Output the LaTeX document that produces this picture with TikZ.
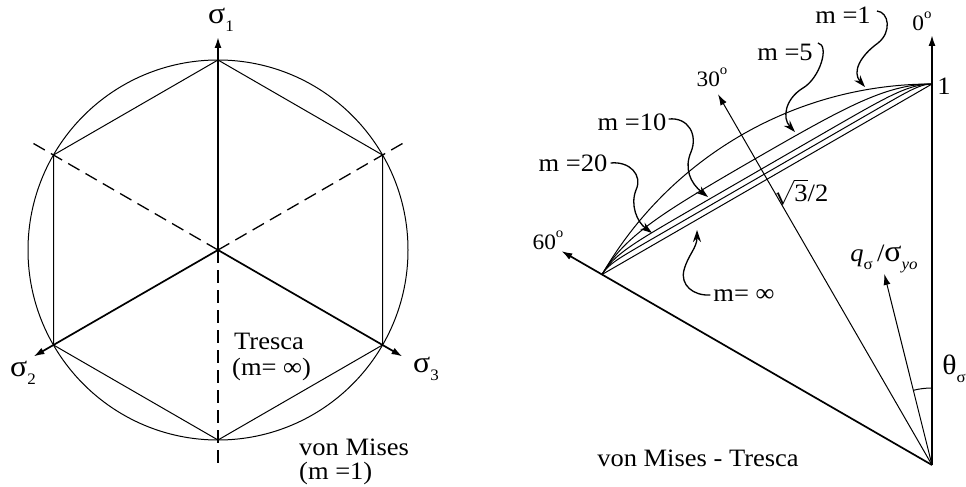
\documentclass[tikz,border=0pt]{standalone}
\usepackage{fontspec}
\setmainfont{Liberation Serif}[FakeStretch=1.06]
\usetikzlibrary{arrows.meta}
\newcommand\mysub[1]{\raisebox{-0.32em}{\fontsize{16}{16}\selectfont #1}}
\newcommand\mydeg{\raisebox{0.55em}{\fontsize{14}{14}\selectfont o}}
\newcommand\mysig{{\fontsize{30}{30}\selectfont σ}}
\begin{document}
\begin{tikzpicture}[x=1pt,y=-1pt,
  lbl/.style={inner sep=0pt, font=\fontsize{25}{27}\selectfont},
  sml/.style={inner sep=0pt, font=\fontsize{22}{24}\selectfont},
  thk/.style={line width=1.7pt},
  thn/.style={line width=1pt},
  ax/.style={thk,-{Latex[length=11pt,width=7pt]}},
  axthin/.style={thn,-{Latex[length=11pt,width=7pt]}},
  dsh/.style={line width=1.3pt,dash pattern=on 13pt off 7pt},
  leader/.style={line width=1.3pt,-{Stealth[length=12pt,width=8pt]}}
]
\useasboundingbox (0,0) rectangle (966,487);

% ---------------- left diagram ----------------
\coordinate (C) at (218,250);
\coordinate (V0) at (218,60);
\coordinate (V60) at (382.5,155);
\coordinate (V120) at (382.5,345);
\coordinate (V180) at (218,440);
\coordinate (V240) at (53.5,345);
\coordinate (V300) at (53.5,155);
\node[circle, draw, thn, minimum size=380pt, inner sep=0pt] (vmcirc) at (C) {};
\draw[thn] (V0) -- (V60) -- (V120) -- (V180) -- (V240) -- (V300) -- cycle;

\coordinate (s1tip) at (218,37);
\coordinate (s2tip) at (33.5,356.5);
\coordinate (s3tip) at (402.5,356.5);
\coordinate (d1) at (33.5,143.5);
\coordinate (d2) at (402.5,143.5);
\coordinate (d3) at (218,463);
\draw[ax] (C) -- (s1tip);
\draw[ax] (C) -- (s2tip);
\draw[ax] (C) -- (s3tip);
\draw[dsh] (C) -- (d1);
\draw[dsh] (C) -- (d2);
\draw[dsh] (C) -- (d3);

\node[lbl] (s1) at (221,20) {\mysig\mysub{1}};
\node[lbl] (s2) at (23,373) {\mysig\mysub{2}};
\node[lbl] (s3) at (426,369) {\mysig\mysub{3}};
\node[lbl, anchor=west] (tres) at (234,341) {Tresca};
\node[lbl, anchor=west] (tresm) at (232,369) {(m= ∞)};
\node[lbl, anchor=west] (vm) at (299,447) {von Mises};
\node[lbl, anchor=west] (vmm) at (299,473) {(m =1)};

% ---------------- right diagram ----------------
\coordinate (O) at (932,465);
\coordinate (P0) at (932,84);
\coordinate (P60) at (602,274.5);
\coordinate (t0) at (932,35);
\coordinate (t60) at (561.3,251);
\coordinate (t30) at (718,94.3);
\coordinate (tq) at (884.3,273.9);
\draw[ax] (O) -- (t0);
\draw[ax] (O) -- (t60);
\draw[axthin] (O) -- (t30);
\draw[axthin] (O) -- (tq);
\draw[thn] (O) ++(0,-77) arc[start angle=270, end angle=256, radius=77];

% yield curves: von Mises arc, Hosford-type curves (exponent 2m), Tresca line
\draw[thn] (P0) -- (P60);
\draw[thn] (O) ++(0,-381) arc[start angle=270, end angle=210, radius=381];
\foreach \a in {10,20,40}{
  \gdef\pts{}
  \foreach \t in {0,0.5,...,60}{
    \xdef\pts{\pts (\fpeval{932-381*((2*sind(60)^\a)^(1/\a))/((abs(sind(60-\t))^\a+abs(sind(\t))^\a+abs(sind(\t+60))^\a)^(1/\a))*sind(\t)},
      \fpeval{465-381*((2*sind(60)^\a)^(1/\a))/((abs(sind(60-\t))^\a+abs(sind(\t))^\a+abs(sind(\t+60))^\a)^(1/\a))*cosd(\t)})}
  }
  \edef\mydraw{\noexpand\draw[thn] plot[smooth] coordinates {\pts};}
  \mydraw
}

% labels
\node[sml] (l0) at (922,21) {0\mydeg};
\node[sml] (l30) at (712,77) {30\mydeg};
\node[sml] (l60) at (548,240) {60\mydeg};
\node[lbl] (l1) at (944,86) {1};
\node[lbl] (lr3) at (801,192) {$\sqrt{\mbox{3}}$/2};
\node[lbl] (lq) at (884,259) {\textit{q}\mysub{σ}\,/\mysig\mysub{\textit{yo}}};
\node[lbl] (lth) at (954,369) {{\fontsize{28}{28}\selectfont θ}\mysub{σ}};
\node[lbl] (lvt) at (698,458) {von Mises - Tresca};

\node[lbl] (m1) at (843,15) {m =1};
\node[lbl] (m5) at (785,52) {m =5};
\node[lbl] (m10) at (632,122) {m =10};
\node[lbl] (m20) at (573,163) {m =20};
\node[lbl] (minf) at (744,295) {m= ∞};

% leaders
\coordinate (a1) at (865,87);
\coordinate (a5) at (795,132);
\coordinate (a10) at (708,197);
\coordinate (a20) at (652,233);
\coordinate (ainf) at (697,230);
\draw[leader] ([xshift=6pt,yshift=4pt]m1.east) .. controls +(12,1) and (892,32) .. (878,43)
  .. controls (860,56) and (852,72) .. (a1);
\draw[leader] ([xshift=5pt,yshift=9pt]m5.east) .. controls +(12,2) and (820,78) .. (803,88)
  .. controls (785,99) and (782,118) .. (a5);
\draw[leader] ([xshift=2pt,yshift=3pt]m10.east) .. controls +(20,-2) and (698,135) .. (691,152)
  .. controls (684,168) and (690,183) .. (a10);
\draw[leader] ([xshift=3pt]m20.east) .. controls +(19,-2) and (643,175) .. (636,190)
  .. controls (630,205) and (637,222) .. (a20);
\draw[leader] ([xshift=-3pt]minf.west) .. controls +(-17,1) and (680,285) .. (684,270)
  .. controls (688,255) and (697,248) .. (ainf);
\end{tikzpicture}
\end{document}
